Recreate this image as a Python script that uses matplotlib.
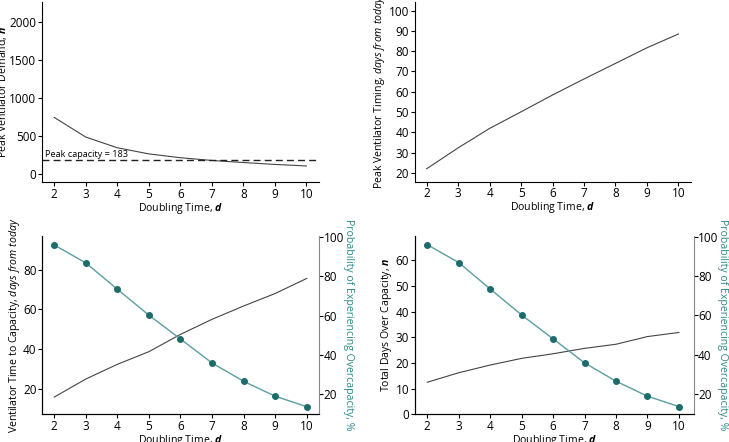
import numpy as np
import matplotlib
matplotlib.use("Agg")
import matplotlib.pyplot as plt

plt.rcParams['font.family'] = ['Open Sans', 'DejaVu Sans']
plt.rcParams['mathtext.fontset'] = 'custom'
plt.rcParams['mathtext.rm'] = 'Open Sans'
plt.rcParams['mathtext.it'] = 'Open Sans:italic'
plt.rcParams['mathtext.bf'] = 'Open Sans:bold:italic'

# data
doubling = [2, 3, 4, 5, 6, 7, 8, 9, 10]
peak_demand = [745, 488, 348, 268, 218, 182, 155, 130, 110]
peak_capacity = 183
peak_timing = [22, 32.3, 41.9, 50.1, 58.4, 66.3, 74, 81.7, 88.5]
time_to_capacity = [15.8, 24.9, 32.3, 38.7, 47.4, 55, 61.7, 68, 75.6]
prob_overcap = [95.9, 86.8, 73.4, 60.2, 48.1, 35.9, 26.6, 19, 13.7]
days_over = [12.5, 16.2, 19.2, 21.8, 23.6, 25.7, 27.3, 30.3, 31.9]

teal_line = '#5b9ea0'
teal_dot = '#1d6b6b'
teal_txt = '#2b8a8a'
lab_fs = 7.6

W, H = 729, 442
fig = plt.figure(figsize=(W / 100, H / 100), dpi=100)


def box(l, r, t, b):
    return [l / W, (H - b) / H, (r - l) / W, (b - t) / H]


def style(ax):
    ax.spines['top'].set_visible(False)
    ax.spines['right'].set_visible(False)
    ax.tick_params(labelsize=8.5, length=3, width=0.8, pad=1)
    ax.set_xticks(doubling)
    ax.set_xlabel(r'Doubling Time, $\mathbf{d}$', fontsize=lab_fs, labelpad=0)


def right_axis(ax, top):
    axr = ax.twinx()
    axr.plot(doubling, prob_overcap, color=teal_line, lw=1, marker='o', ms=4,
             mfc=teal_dot, mec=teal_dot)
    axr.set_ylim(9.8, top)
    axr.set_yticks([20, 40, 60, 80, 100])
    axr.spines['top'].set_visible(False)
    axr.spines['right'].set_color('#888888')
    axr.tick_params(labelsize=8.5, length=3, width=0.8, pad=0)
    axr.set_ylabel('Probability of Experiencing Overcapacity, %', fontsize=lab_fs,
                   color=teal_txt, rotation=270, labelpad=7)
    return axr


# top left
ax1 = fig.add_axes(box(42, 319, 2, 182))
ax1.plot(doubling, peak_demand, color='#444444', lw=0.8)
ax1.axhline(peak_capacity, color='#222222', lw=1, ls=(0, (5, 3)))
ax1.text(1.7, 225, 'Peak capacity = %d' % peak_capacity, fontsize=6.6)
ax1.set_xlim(1.61, 10.4)
ax1.set_ylim(-100, 2256)
ax1.set_yticks([0, 500, 1000, 1500, 2000])
style(ax1)
ax1.set_ylabel(r'Peak Ventilator Demand, $\mathbf{n}$', fontsize=lab_fs, labelpad=0)

# top right
ax2 = fig.add_axes(box(414.7, 690.7, 2, 181.7))
ax2.plot(doubling, peak_timing, color='#444444', lw=0.8)
ax2.set_xlim(1.62, 10.39)
ax2.set_ylim(15.6, 104.3)
ax2.set_yticks(np.arange(20, 101, 10))
style(ax2)
ax2.set_ylabel(r'Peak Ventilator Timing, $\mathit{days\ from\ today}$', fontsize=lab_fs, labelpad=1)

# bottom left
ax3 = fig.add_axes(box(42, 319.3, 236, 414.3))
ax3.plot(doubling, time_to_capacity, color='#444444', lw=0.8)
ax3.set_xlim(1.61, 10.4)
ax3.set_ylim(7.1, 97)
ax3.set_yticks([20, 40, 60, 80])
style(ax3)
ax3.set_ylabel(r'Ventilator Time to Capacity, $\mathit{days\ from\ today}$', fontsize=lab_fs, labelpad=1)
right_axis(ax3, 100.5)

# bottom right
ax4 = fig.add_axes(box(414.7, 694, 236, 414.3))
ax4.plot(doubling, days_over, color='#444444', lw=0.8)
ax4.set_xlim(1.6, 10.48)
ax4.set_ylim(0, 69.5)
ax4.set_yticks(np.arange(0, 61, 10))
style(ax4)
ax4.set_ylabel(r'Total Days Over Capacity, $\mathbf{n}$', fontsize=lab_fs, labelpad=1)
right_axis(ax4, 100.3)

fig.savefig('out.png', dpi=100)
